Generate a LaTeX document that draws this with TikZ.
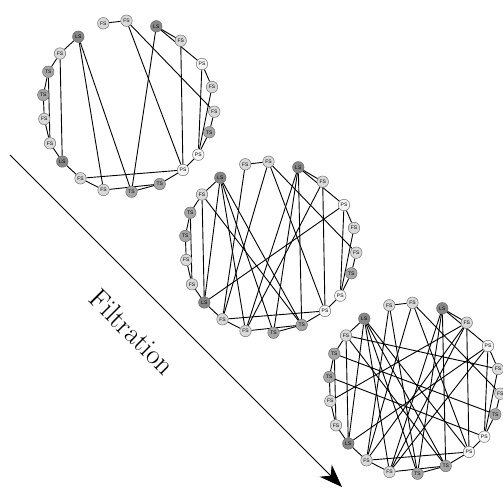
\documentclass[tikz,border=0pt]{standalone}
\usepackage{fontspec}
\newfontfamily\lblfont{Liberation Sans}
\usetikzlibrary{arrows.meta}
\pgfdeclarelayer{bg}
\pgfsetlayers{bg,main}
\tikzset{
 nd/.style={circle, draw=black!60, line width=0.45pt, minimum size=11.5pt, inner sep=0pt, font=\lblfont\fontsize{5}{5}\selectfont},
 fs/.style={nd, fill=black!15},
 ls/.style={nd, fill=black!47},
 ts/.style={nd, fill=black!35},
 ps/.style={nd, fill=black!4},
 ed/.style={line width=0.9pt, black},
}
\newcommand\placegraph[3]{%
 \foreach \i/\t/\l/\x/\y in {1/fs/FS/103.3/23.3, 2/fs/FS/126.5/20.7, 3/ls/LS/156.3/26.3, 4/fs/FS/180.7/40.7,
   5/ps/PS/202/64, 6/fs/FS/212/87, 7/fs/FS/214.3/111.7, 8/ts/TS/209.3/132.3, 9/ps/PS/198.3/154.7,
   10/ps/PS/183/170, 11/ts/TS/159.7/184, 12/ts/TS/131.5/191.7, 13/fs/FS/103.5/190, 14/fs/FS/80.5/178.3,
   15/ls/LS/62.3/161.5, 16/fs/FS/50/143.3, 17/fs/FS/44.3/119, 18/ts/TS/43.3/95, 19/ts/TS/48.3/71.7,
   20/fs/FS/60/53.5, 21/ls/LS/78.3/36.7}
 {\node[\t] (#1\i) at (\x+#2,\y+#3) {\l};}%
}
\newcommand\edgesA[1]{%
 \foreach \u/\v in {1/2, 2/10, 2/7, 3/4, 3/5, 3/12, 4/10, 5/6, 5/9, 6/9, 7/8, 8/9, 9/10, 10/11, 10/14,
   11/12, 11/13, 12/21, 13/21, 13/14, 14/15, 15/16, 15/20, 16/17, 17/18, 18/19, 19/20, 19/16, 20/21}
 {\draw[ed] (#1\u) -- (#1\v);}%
}
\newcommand\edgesB[1]{%
 \foreach \u/\v in {1/14, 2/14, 3/13, 4/13, 3/11, 5/15, 20/11, 21/11, 21/15}
 {\draw[ed] (#1\u) -- (#1\v);}%
}
\newcommand\edgesC[1]{%
 \foreach \u/\v in {20/6, 19/8, 18/9, 17/4, 4/14, 21/10, 1/12, 5/13}
 {\draw[ed] (#1\u) -- (#1\v);}%
}
\begin{document}
\begin{tikzpicture}[x=1pt,y=-1pt]
\useasboundingbox (0,0) rectangle (503,487);
\placegraph{a}{0}{0}
\placegraph{b}{142}{141}
\placegraph{c}{286}{282}
\begin{pgfonlayer}{bg}
\edgesA{a}
\edgesA{b}\edgesB{b}
\edgesA{c}\edgesB{c}\edgesC{c}
\end{pgfonlayer}
\coordinate (arS) at (10,155);
\coordinate (arE) at (342,487);
\draw[line width=0.9pt, -{Stealth[length=23pt,width=17pt,inset=7pt]}] (arS) -- (arE);
\node[rotate=-45, font=\fontsize{28}{32}\selectfont] (filt) at (132,332) {Filtration};
\end{tikzpicture}
\end{document}
